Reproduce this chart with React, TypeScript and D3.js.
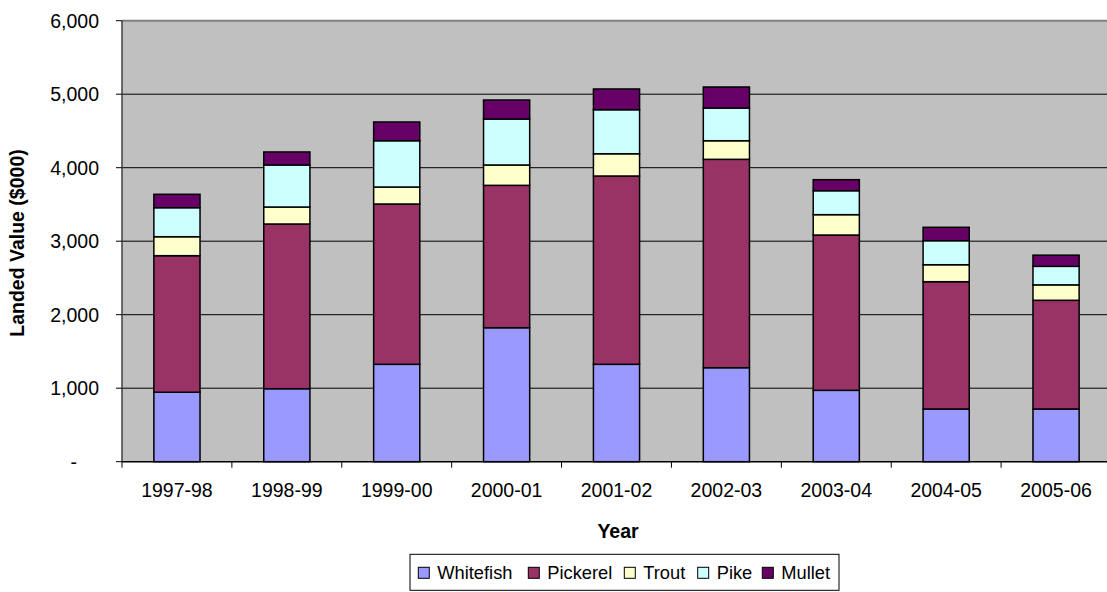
import React from "react";
import * as d3 from "d3";

const categories = ["1997-98", "1998-99", "1999-00", "2000-01", "2001-02", "2002-03", "2003-04", "2004-05", "2005-06"];
const seriesNames = ["Whitefish", "Pickerel", "Trout", "Pike", "Mullet"];
const whitefish = [945, 993, 1325, 1823, 1325, 1279, 971, 717, 717];
const pickerel = [1858, 2241, 2181, 1937, 2562, 2835, 2113, 1732, 1479];
const trout = [258, 231, 231, 277, 303, 253, 277, 231, 210];
const pike = [395, 572, 630, 625, 599, 445, 326, 327, 252];
const mullet = [182, 177, 255, 259, 282, 286, 150, 182, 152];
const yTicks = [0, 1000, 2000, 3000, 4000, 5000, 6000];
const colors = ["#9999FF", "#993366", "#FFFFCC", "#CCFFFF", "#660066"];

const W = 1107;
const H = 592;
const left = 122;
const right = 1111;
const top = 20.7;
const bottom = 461.7;
const FONT = "'Liberation Sans', Arial, sans-serif";
const FS = 19.5;
const LFS = 18.3;
const legendX = [418.3, 528.3, 624.3, 697.7, 762.3];

export default function App() {
  const rows = categories.map((c, i) => ({
    cat: c,
    Whitefish: whitefish[i],
    Pickerel: pickerel[i],
    Trout: trout[i],
    Pike: pike[i],
    Mullet: mullet[i],
  }));
  const stack = d3.stack<any>().keys(seriesNames)(rows);

  const x = d3.scaleBand<string>().domain(categories).range([left, right]).paddingInner(0.58).paddingOuter(0.29);
  const y = d3.scaleLinear().domain([0, 6000]).range([bottom, top]);
  const fmt = d3.format(",");

  return (
    <svg width={W} height={H} style={{ position: "absolute", left: 0, top: 0, display: "block" }}>
      <rect x={0} y={0} width={W} height={H} fill="#fff" />
      <rect x={left} y={top} width={right - left} height={bottom - top} fill="#C0C0C0" />
      {yTicks.filter((t) => t > 0 && t < 6000).map((t) => (
        <line key={t} x1={left} x2={right} y1={y(t)} y2={y(t)} stroke="#000" strokeWidth={1} />
      ))}
      <line x1={left} x2={right} y1={top} y2={top} stroke="#808080" strokeWidth={2} />
      {stack.map((layer, si) => (
        <g key={seriesNames[si]}>
          {layer.map((d, i) => (
            <rect
              key={i}
              x={x(categories[i])}
              y={y(d[1])}
              width={x.bandwidth()}
              height={y(d[0]) - y(d[1])}
              fill={colors[si]}
              stroke="#000"
              strokeWidth={1.5}
            />
          ))}
        </g>
      ))}
      <line x1={left} x2={left} y1={top} y2={bottom} stroke="#404040" strokeWidth={1.5} />
      <line x1={left} x2={right} y1={bottom} y2={bottom} stroke="#000" strokeWidth={1.5} />
      {yTicks.map((t) => (
        <g key={t}>
          <line x1={left - 6} x2={left} y1={y(t)} y2={y(t)} stroke="#000" strokeWidth={1} />
          <text
            x={t === 0 ? 77 : 99}
            y={y(t)}
            dy="0.35em"
            textAnchor="end"
            fontFamily={FONT}
            fontSize={FS}
            fill="#000"
          >
            {t === 0 ? "-" : fmt(t)}
          </text>
        </g>
      ))}
      {categories.map((c, i) => (
        <line
          key={"tk" + c}
          x1={left + i * x.step()}
          x2={left + i * x.step()}
          y1={bottom}
          y2={bottom + 6}
          stroke="#000"
          strokeWidth={1}
        />
      ))}
      {categories.map((c) => (
        <text
          key={c}
          x={(x(c) as number) + x.bandwidth() / 2}
          y={490}
          dy="0.35em"
          textAnchor="middle"
          fontFamily={FONT}
          fontSize={FS}
          fill="#000"
        >
          {c}
        </text>
      ))}
      <text x={618} y={531} dy="0.35em" textAnchor="middle" fontFamily={FONT} fontSize={FS} fontWeight="bold" fill="#000">
        Year
      </text>
      <text
        transform={`translate(17,243) rotate(-90)`}
        dy="0.35em"
        textAnchor="middle"
        fontFamily={FONT}
        fontSize={FS}
        fontWeight="bold"
        fill="#000"
      >
        Landed Value ($000)
      </text>
      <rect x={410} y={554.3} width={429} height={36} fill="#fff" stroke="#000" strokeWidth={1} />
      {seriesNames.map((name, i) => (
        <g key={name}>
          <rect x={legendX[i]} y={567.3} width={11} height={11} fill={colors[i]} stroke="#000" strokeWidth={1} />
          <text x={legendX[i] + 19} y={579} fontFamily={FONT} fontSize={LFS} fill="#000">
            {name}
          </text>
        </g>
      ))}
    </svg>
  );
}
